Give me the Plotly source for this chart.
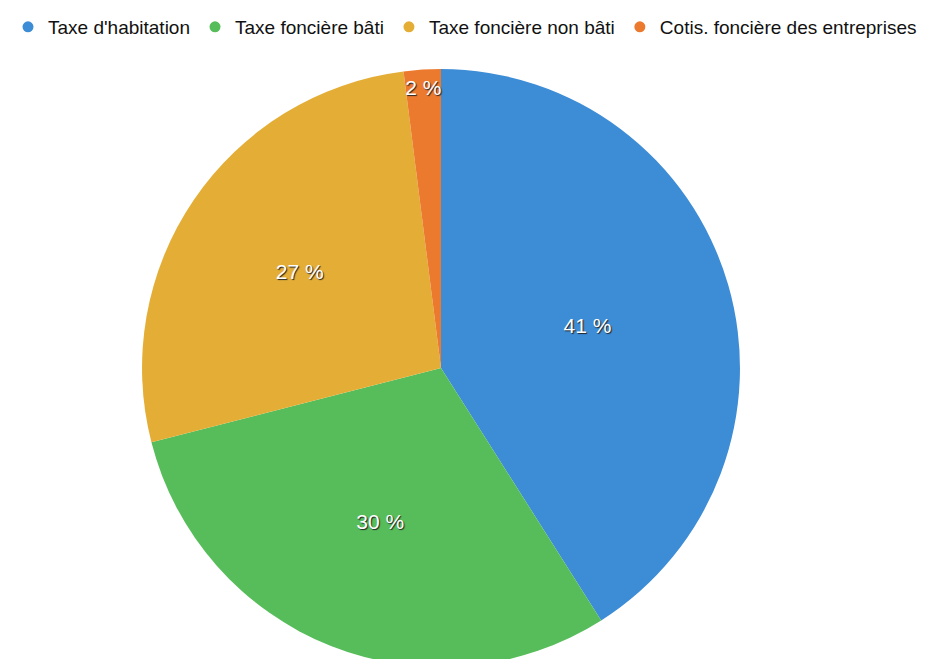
import plotly.graph_objects as go

categories = ["Taxe d'habitation", "Taxe foncière bâti", "Taxe foncière non bâti", "Cotis. foncière des entreprises"]
values = [41, 30, 27, 2]
colors = ["#3d8cd6", "#56bd5a", "#e4ae36", "#eb7a2f"]

fig = go.Figure()
fig.add_trace(go.Pie(
    labels=categories,
    values=values,
    sort=False,
    direction="clockwise",
    rotation=0,
    marker=dict(colors=colors, line=dict(width=0)),
    texttemplate="%{value} %",
    textposition="inside",
    insidetextorientation="horizontal",
    textfont=dict(family="Liberation Sans, Arial, sans-serif", size=21, color="white",
                  shadow="1px 1px 1px #222"),
    hoverinfo="label+percent",
    showlegend=False,
    domain=dict(x=[0.1435, 0.7837], y=[0.0, 0.9074]),
))

for name, col in zip(categories, colors):
    fig.add_trace(go.Scatter(
        x=[None], y=[None], mode="markers", name=name,
        marker=dict(symbol="circle", size=11, color=col),
        showlegend=True,
    ))

fig.update_layout(
    width=934, height=659,
    margin=dict(l=0, r=0, t=0, b=0),
    paper_bgcolor="white", plot_bgcolor="white",
    xaxis=dict(visible=False), yaxis=dict(visible=False),
    uniformtext=dict(minsize=21, mode="show"),
    legend=dict(orientation="h", x=0.0, y=1.0, xanchor="left", yanchor="top",
                font=dict(family="Liberation Sans, Arial, sans-serif", size=19, color="#111"),
                itemclick=False, bgcolor="rgba(0,0,0,0)"),
)

fig.write_html("out.html")
